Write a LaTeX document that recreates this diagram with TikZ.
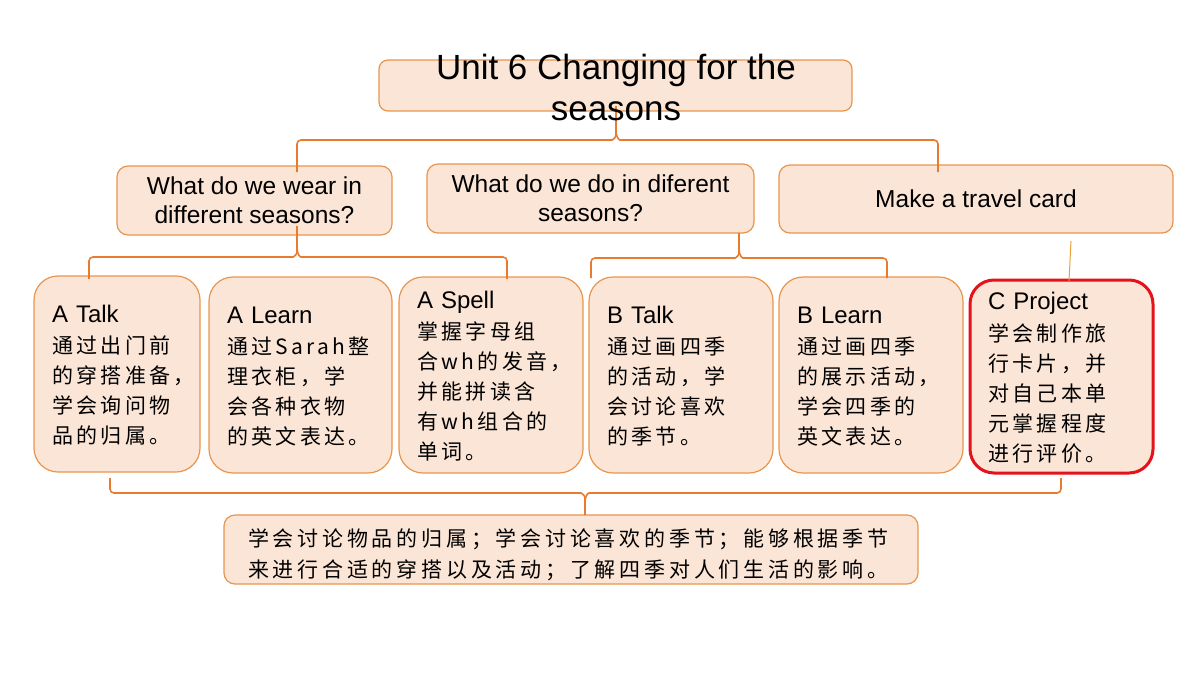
\documentclass[tikz,border=0pt]{standalone}
\usepackage{fontspec}
\setmainfont{Liberation Sans}
\newfontfamily\cjk[LetterSpace=16]{Noto Sans CJK SC}
\newfontfamily\cjkb[LetterSpace=18]{Noto Sans CJK SC}
\newcommand\zhfont{\cjk\fontsize{21}{30}\selectfont}
\newcommand\zhbfont{\cjkb\fontsize{21}{30.5}\selectfont}
\definecolor{boxfill}{HTML}{FBE5D6}
\definecolor{boxline}{HTML}{E8964F}
\definecolor{connc}{HTML}{E97B2E}
\definecolor{redline}{HTML}{E3121B}
\definecolor{thinc}{HTML}{E9A23B}
\begin{document}
\begin{tikzpicture}[x=1pt,y=-1pt,
  boxbase/.style={draw=boxline, fill=boxfill, line width=1.2pt, inner sep=0pt, text=black},
  headbox/.style={boxbase, rounded corners=9pt},
  qbox/.style={boxbase, rounded corners=11pt, align=center, font=\fontsize{24.5}{29}\selectfont},
  card/.style={boxbase, rounded corners=24pt, align=left, inner xsep=18pt, inner ysep=0pt, font=\fontsize{24}{30}\selectfont},
  sumbox/.style={boxbase, rounded corners=11pt, align=left, inner xsep=24pt, inner ysep=0pt, font=\zhbfont},
  bracket/.style={draw=connc, line width=1.6pt, rounded corners=4pt},
  tline/.style={draw=thinc, line width=1pt},
]
\useasboundingbox (0,0) rectangle (1200,675);
\fill[white] (0,0) rectangle (1200,675);

% title
\node[headbox, minimum width=473pt, minimum height=51pt] (title) at (615.5,85.5) {};

% second level
\node[qbox, minimum width=275pt, minimum height=69pt] (q1) at (254.5,200.5) {What do we wear in\\different seasons?};
\node[qbox, minimum width=327pt, minimum height=69pt] (q2) at (590.5,198.5) {What do we do in diferent\\seasons?};
\node[qbox, minimum width=394pt, minimum height=68pt] (q3) at (976,199) {Make a travel card};

% third level
\node[card, text width=130pt, minimum width=166pt, minimum height=196pt] (atalk) at (117,374)
  {\rule{0pt}{20pt}A Talk\\[1.5pt]\zhfont 通过出门前\\的穿搭准备，\\学会询问物\\品的归属。};
\node[card, text width=147pt, minimum width=183pt, minimum height=196pt] (alearn) at (300.5,375)
  {\rule{0pt}{20pt}A Learn\\[1.5pt]\zhfont 通过Sarah整\\理衣柜，学\\会各种衣物\\的英文表达。};
\node[card, text width=148pt, minimum width=184pt, minimum height=196pt] (aspell) at (491,375)
  {\rule{0pt}{20pt}A Spell\\[1.5pt]\zhfont 掌握字母组\\合wh的发音，\\并能拼读含\\有wh组合的\\单词。};
\node[card, text width=148pt, minimum width=184pt, minimum height=196pt] (btalk) at (681,375)
  {\rule{0pt}{20pt}B Talk\\[1.5pt]\zhfont 通过画四季\\的活动，学\\会讨论喜欢\\的季节。};
\node[card, text width=148pt, minimum width=184pt, minimum height=196pt] (blearn) at (871,375)
  {\rule{0pt}{20pt}B Learn\\[1.5pt]\zhfont 通过画四季\\的展示活动，\\学会四季的\\英文表达。};
\node[card, draw=redline, line width=3pt, text width=147pt, minimum width=181pt, minimum height=193pt] (cproj) at (1061.5,376.5)
  {\rule{0pt}{20pt}C Project\\[1.5pt]\zhfont 学会制作旅\\行卡片，并\\对自己本单\\元掌握程度\\进行评价。};

% summary
\node[sumbox, text width=646pt, minimum width=694pt, minimum height=69pt] (summary) at (571,549.5)
  {\rule{0pt}{28pt}学会讨论物品的归属；学会讨论喜欢的季节；能够根据季节\\来进行合适的穿搭以及活动；了解四季对人们生活的影响。};

% bracket coordinates
\coordinate (b1l) at (297,172);
\coordinate (b1r) at (938,172);
\coordinate (b1t) at (616,106);
\coordinate (b2l) at (89,279);
\coordinate (b2r) at (507,279);
\coordinate (b2t) at (297,226);
\coordinate (b3l) at (591,278);
\coordinate (b3r) at (887,278);
\coordinate (b3t) at (739,233);
\coordinate (b4l) at (110,478);
\coordinate (b4r) at (1061,478);
\coordinate (b4t) at (585,515);
\coordinate (ctop) at (1071,241);
\coordinate (cbot) at (1069,281);

% brackets
\draw[bracket] (b1l) |- (608,140) .. controls (613,140) and (616,137) .. (616,131) -- (b1t);
\draw[bracket] (b1r) |- (624,140) .. controls (619,140) and (616,137) .. (616,131);
\draw[bracket] (b2l) |- (289,257) .. controls (294,257) and (297,254) .. (297,248) -- (b2t);
\draw[bracket] (b2r) |- (305,257) .. controls (300,257) and (297,254) .. (297,248);
\draw[bracket] (b3l) |- (731,258) .. controls (736,258) and (739,255) .. (739,249) -- (b3t);
\draw[bracket] (b3r) |- (747,258) .. controls (742,258) and (739,255) .. (739,249);
\draw[bracket] (b4l) |- (577,493) .. controls (582,493) and (585,496) .. (585,502) -- (b4t);
\draw[bracket] (b4r) |- (593,493) .. controls (588,493) and (585,496) .. (585,502);
\draw[tline] (ctop) -- (cbot);

% title text
\node[font=\fontsize{35}{41}\selectfont, align=center, inner sep=0pt, text=black] (titletxt) at (616,87) {Unit 6 Changing for the\\seasons};
\end{tikzpicture}
\end{document}
